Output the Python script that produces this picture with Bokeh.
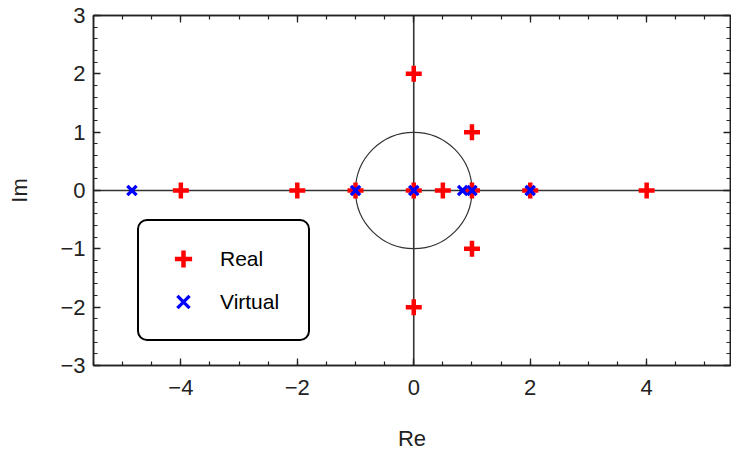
from bokeh.plotting import figure
from bokeh.models import (Range1d, SingleIntervalTicker, LinearAxis, Span,
                          Legend, LegendItem, CustomJSTickFormatter)
from bokeh.embed import file_html
from bokeh.resources import INLINE

# Real zeros (red crosses) in the complex plane
real_re = [-4, -2, -1, 0, 0.5, 1, 2, 4, 0, 0, 1, 1]
real_im = [0, 0, 0, 0, 0, 0, 0, 0, 2, -2, 1, -1]

# Virtual zeros (blue x marks), all on the real axis
virtual_re = [-4.84, -1, 0, 0.84, 1, 2]
virtual_im = [0, 0, 0, 0, 0, 0]

# Axis extents and tick spacing
x_limits = (-5.5, 5.44)
y_limits = (-3, 3)
x_major_step, x_minor_count = 2, 4
y_major_step, y_minor_count = 1, 5

FONT = "Liberation Sans"
INK = "#222222"

p = figure(width=731, height=459,
           x_range=Range1d(*x_limits), y_range=Range1d(*y_limits),
           output_backend="svg", toolbar_location=None,
           x_axis_location=None, y_axis_location=None,
           min_border_left=93, min_border_right=1,
           min_border_top=15, min_border_bottom=94)
p.grid.visible = False
p.outline_line_color = INK
p.outline_line_width = 1.5
p.background_fill_color = "white"
p.border_fill_color = "white"

minus_fmt = CustomJSTickFormatter(
    code="return tick < 0 ? '\u2212' + Math.abs(tick) : String(tick);")


def frame_axis(ticker, labelled, label=""):
    ax = LinearAxis(ticker=ticker)
    ax.axis_line_color = INK
    ax.axis_line_width = 1.5
    ax.major_tick_line_color = INK
    ax.minor_tick_line_color = INK
    ax.major_tick_line_width = 1.3
    ax.minor_tick_line_width = 1.2
    ax.major_tick_in = 7
    ax.major_tick_out = 0
    ax.minor_tick_in = 4
    ax.minor_tick_out = 0
    if labelled:
        ax.formatter = minus_fmt
        ax.major_label_text_font = FONT
        ax.major_label_text_font_size = "22px"
        ax.major_label_text_color = INK
        ax.axis_label = label
        ax.axis_label_text_font = FONT
        ax.axis_label_text_font_size = "22px"
        ax.axis_label_text_font_style = "normal"
        ax.axis_label_text_color = INK
    else:
        ax.formatter = CustomJSTickFormatter(code="return '';")
        ax.major_label_text_font_size = "1px"
        ax.major_label_standoff = 0
    return ax


def xt():
    return SingleIntervalTicker(interval=x_major_step, num_minor_ticks=x_minor_count)


def yt():
    return SingleIntervalTicker(interval=y_major_step, num_minor_ticks=y_minor_count)


bottom = frame_axis(xt(), True, "Re")
bottom.major_label_standoff = 14
bottom.axis_label_standoff = 28
left = frame_axis(yt(), True, "Im")
left.major_label_standoff = 8
left.axis_label_standoff = 25
p.add_layout(bottom, "below")
p.add_layout(left, "left")
p.add_layout(frame_axis(xt(), False), "above")
p.add_layout(frame_axis(yt(), False), "right")

# Coordinate axes through the origin
p.add_layout(Span(location=0, dimension="width", line_color="#333333",
                  line_width=1.6, level="underlay"))
p.add_layout(Span(location=0, dimension="height", line_color="#333333",
                  line_width=1.6, level="underlay"))

# Unit circle
p.circle(x=[0], y=[0], radius=1, fill_color=None,
         line_color="#333333", line_width=1.2)

r_real = p.scatter(real_re, real_im, marker="cross", size=16,
                   line_color="red", line_width=4.5)
r_virt = p.scatter(virtual_re, virtual_im, marker="x", size=13,
                   line_color="blue", line_width=3.4)

legend = Legend(items=[LegendItem(label="Real", renderers=[r_real]),
                       LegendItem(label="Virtual", renderers=[r_virt])],
                location=(44, 24), padding=16, spacing=0,
                glyph_height=43, glyph_width=56, label_standoff=9,
                label_width=72, margin=0,
                border_line_color="black", border_line_width=2,
                border_line_alpha=1,
                background_fill_color="white", background_fill_alpha=1,
                label_text_font=FONT, label_text_font_size="21px",
                label_text_color="black")
if "border_radius" in Legend.properties():
    legend.border_radius = 10
p.add_layout(legend)

open("out.html", "w").write(file_html(p, INLINE))
